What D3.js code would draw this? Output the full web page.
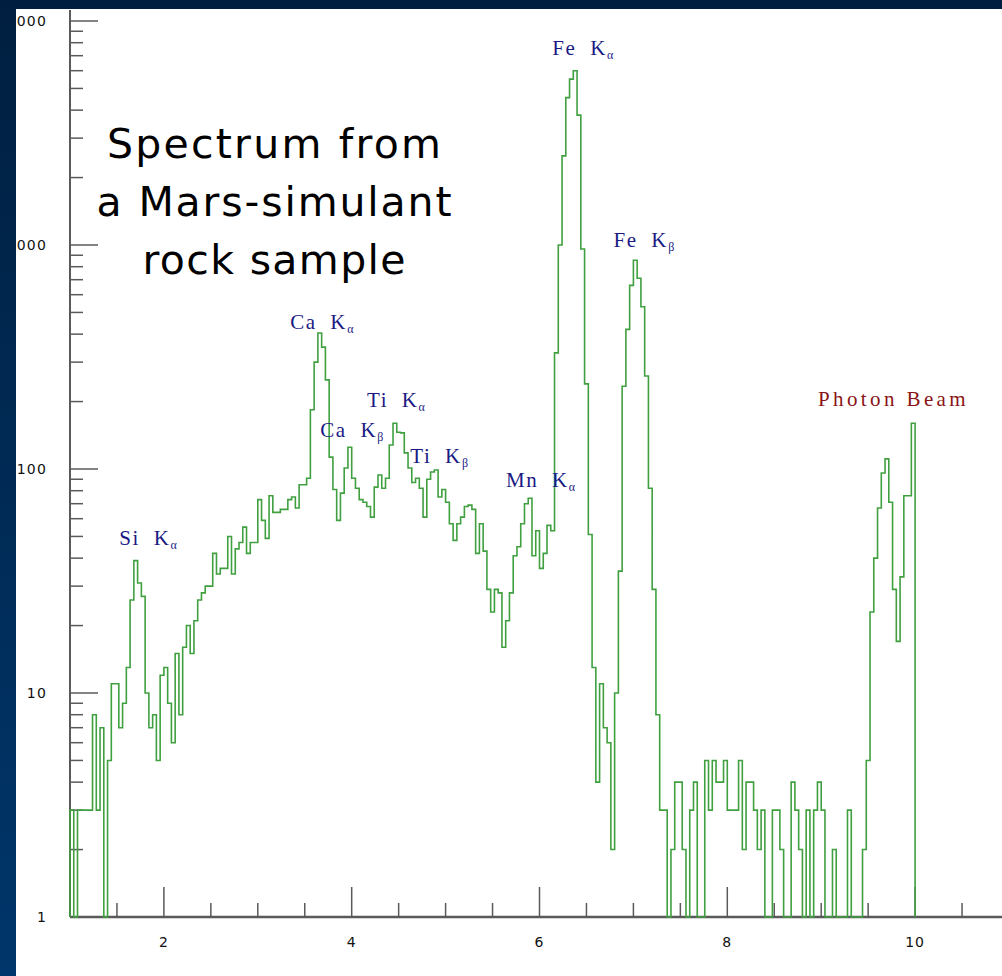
<!DOCTYPE html>
<html>
<head>
<meta charset="utf-8">
<script src="https://cdn.jsdelivr.net/npm/d3@7"></script>
<style>
  body { margin: 0; background: #002a55; overflow: hidden; }
  svg { display: block; }
</style>
</head>
<body>
<div id="chart"></div>
<script>
// histogram bins (keV) and counts
let binStart = 1.0;
let binWidth = 0.04;
let counts = [
    3, 1, 3, 3, 3, 3, 8, 3, 7, 1,
    5, 11, 11, 7, 9, 13, 26, 39, 31, 27,
    10, 7, 8, 5, 12, 13, 9, 6, 15, 8,
    16, 20, 15, 21, 26, 28, 30, 30, 42, 34,
    36, 36, 50, 34, 44, 47, 55, 42, 47, 47,
    73, 59, 49, 76, 64, 64, 66, 66, 73, 75,
    67, 85, 85, 91, 184, 300, 405, 350, 250, 113,
    81, 59, 78, 101, 125, 91, 82, 73, 71, 68,
    61, 83, 94, 82, 91, 128, 160, 146, 145, 118,
    101, 87, 91, 82, 61, 90, 97, 99, 75, 81,
    71, 57, 48, 57, 61, 68, 69, 66, 42, 57,
    43, 29, 23, 29, 28, 16, 21, 28, 41, 45,
    57, 70, 74, 41, 53, 36, 42, 56, 53, 330,
    1000, 2500, 4550, 5500, 6000, 3800, 960, 240, 51, 13,
    4, 11, 7, 6, 2, 10, 35, 234, 420, 660,
    855, 710, 530, 260, 82, 29, 8, 3, 3, 1,
    2, 4, 4, 2, 1, 3, 4, 1, 1, 5,
    3, 5, 4, 4, 5, 3, 3, 3, 5, 2,
    4, 4, 3, 2, 3, 1, 1, 3, 3, 2,
    1, 1, 4, 3, 2, 1, 3, 1, 3, 4,
    3, 1, 1, 2, 1, 1, 1, 3, 1, 1,
    1, 2, 5, 23, 40, 67, 96, 111, 71, 29,
    17, 33, 76, 76, 160
];

// axes
let xTickValues = [2, 4, 6, 8, 10];
let yTickValues = [1, 10, 100, 1000, 10000];

// peak annotations (element, line, energy in keV, counts at label baseline)
let peakNames = ['Si', 'Ca', 'Ca', 'Ti', 'Ti', 'Mn', 'Fe', 'Fe'];
let peakLines = ['α', 'α', 'β', 'α', 'β', 'α', 'α', 'β'];
let peakEnergy = [1.84, 3.69, 4.01, 4.48, 4.94, 6.02, 6.47, 7.12];
let peakCount = [46, 420, 139, 189, 106, 83, 7050, 980];
let beamLabel = 'Photon Beam';
let beamEnergy = 9.77;
let beamCount = 191;

let titleLines = ['Spectrum from', 'a Mars-simulant', 'rock sample'];

let svgWidth = 1002;
let svgHeight = 976;

let svg = d3.select('#chart')
    .append('svg')
    .attr('width', svgWidth)
    .attr('height', svgHeight);

// dark blue frame with a light panel
let grad = svg.append('defs').append('linearGradient')
    .attr('id', 'bg')
    .attr('x1', 0).attr('y1', 0)
    .attr('x2', 0).attr('y2', 1);
grad.append('stop').attr('offset', '0%').attr('stop-color', '#001f40');
grad.append('stop').attr('offset', '100%').attr('stop-color', '#00366b');

svg.append('rect')
    .attr('width', svgWidth)
    .attr('height', svgHeight)
    .attr('fill', 'url(#bg)');

let panel = svg.append('g');
panel.append('rect')
    .attr('x', 16)
    .attr('y', 9)
    .attr('width', svgWidth - 16)
    .attr('height', svgHeight - 9)
    .attr('fill', '#ffffff');

// scales
let x = d3.scaleLinear().domain([1, 11]).range([70, 1009]);
let y = d3.scaleLog().domain([1, 10000]).range([917, 21]);

let axisColor = '#5a5a5a';

// y axis: line, ticks pointing inwards, labels to the left
panel.append('line')
    .attr('x1', x(1)).attr('x2', x(1))
    .attr('y1', 10).attr('y2', y(1))
    .attr('stroke', axisColor)
    .attr('stroke-width', 2);

let yMinor = y.ticks().filter(d => !yTickValues.includes(d));
panel.selectAll('.yminor')
    .data(yMinor)
    .enter()
    .append('line')
    .attr('x1', x(1)).attr('x2', x(1) + 13)
    .attr('y1', d => y(d)).attr('y2', d => y(d))
    .attr('stroke', axisColor)
    .attr('stroke-width', 1.5);

panel.selectAll('.ymajor')
    .data(yTickValues)
    .enter()
    .append('line')
    .attr('x1', x(1)).attr('x2', x(1) + 28)
    .attr('y1', d => y(d)).attr('y2', d => y(d))
    .attr('stroke', axisColor)
    .attr('stroke-width', 1.5);

// labels sit under the blue frame so the big ones get clipped, like the original
let yLabelGroup = svg.insert('g', 'g');
panel.selectAll('.ylabel')
    .data(yTickValues)
    .enter()
    .append('text')
    .attr('x', 47)
    .attr('y', d => y(d) + 5)
    .attr('text-anchor', 'end')
    .attr('font-family', 'DejaVu Sans')
    .attr('font-size', 14)
    .attr('letter-spacing', 1.2)
    .attr('fill', '#111')
    .text(d => d);

// x axis: line, ticks pointing upwards, labels below
panel.append('line')
    .attr('x1', x(1)).attr('x2', svgWidth)
    .attr('y1', y(1)).attr('y2', y(1))
    .attr('stroke', axisColor)
    .attr('stroke-width', 2.5);

let xMinor = x.ticks(20).filter(d => d > 1 && !xTickValues.includes(d));
panel.selectAll('.xminor')
    .data(xMinor)
    .enter()
    .append('line')
    .attr('x1', d => x(d)).attr('x2', d => x(d))
    .attr('y1', y(1)).attr('y2', y(1) - 14)
    .attr('stroke', axisColor)
    .attr('stroke-width', 1.5);

panel.selectAll('.xmajor')
    .data(xTickValues)
    .enter()
    .append('line')
    .attr('x1', d => x(d)).attr('x2', d => x(d))
    .attr('y1', y(1)).attr('y2', y(1) - 30)
    .attr('stroke', axisColor)
    .attr('stroke-width', 1.5);

panel.selectAll('.xlabel')
    .data(xTickValues)
    .enter()
    .append('text')
    .attr('x', d => x(d))
    .attr('y', 947)
    .attr('text-anchor', 'middle')
    .attr('font-family', 'DejaVu Sans')
    .attr('font-size', 14)
    .attr('letter-spacing', 1)
    .attr('fill', '#111')
    .text(d => d);

// spectrum as a step line
let pts = [[binStart, 1]];
counts.forEach((c, i) => pts.push([binStart + i * binWidth, c]));
let binEnd = binStart + counts.length * binWidth;
pts.push([binEnd, counts[counts.length - 1]]);
pts.push([binEnd, 1]);

let stepLine = d3.line()
    .x(d => x(d[0]))
    .y(d => y(Math.max(1, d[1])))
    .curve(d3.curveStepAfter);

panel.append('path')
    .datum(pts)
    .attr('d', stepLine)
    .attr('fill', 'none')
    .attr('stroke', '#40a040')
    .attr('stroke-width', 1.6)
    .attr('stroke-linejoin', 'miter');

// peak labels
let peaks = panel.selectAll('.peak')
    .data(peakNames)
    .enter()
    .append('text')
    .attr('x', (d, i) => x(peakEnergy[i]))
    .attr('y', (d, i) => y(peakCount[i]))
    .attr('text-anchor', 'middle')
    .attr('font-family', 'Liberation Serif')
    .attr('font-size', 21)
    .attr('letter-spacing', 1.6)
    .attr('fill', '#1a1a84');
peaks.append('tspan').text(d => d + '\u00a0\u00a0K');
peaks.append('tspan')
    .attr('font-size', 12)
    .attr('dy', 4)
    .text((d, i) => peakLines[i]);

panel.append('text')
    .attr('x', x(beamEnergy))
    .attr('y', y(beamCount))
    .attr('text-anchor', 'middle')
    .attr('font-family', 'Liberation Serif')
    .attr('font-size', 21)
    .attr('letter-spacing', 3.4)
    .attr('fill', '#8a1414')
    .text(beamLabel);

// title block
let titleWidths = [334, 355, 263];
panel.selectAll('.title')
    .data(titleLines)
    .enter()
    .append('text')
    .attr('x', 274)
    .attr('y', (d, i) => 158 + i * 58)
    .attr('text-anchor', 'middle')
    .attr('font-family', 'DejaVu Sans')
    .attr('font-size', 41)
    .attr('fill', '#000')
    .attr('textLength', (d, i) => titleWidths[i])
    .attr('lengthAdjust', 'spacing')
    .text(d => d);

// frame strips drawn again on top to crop the left labels
svg.append('rect')
    .attr('width', 16)
    .attr('height', svgHeight)
    .attr('fill', 'url(#bg)');
</script>
</body>
</html>
